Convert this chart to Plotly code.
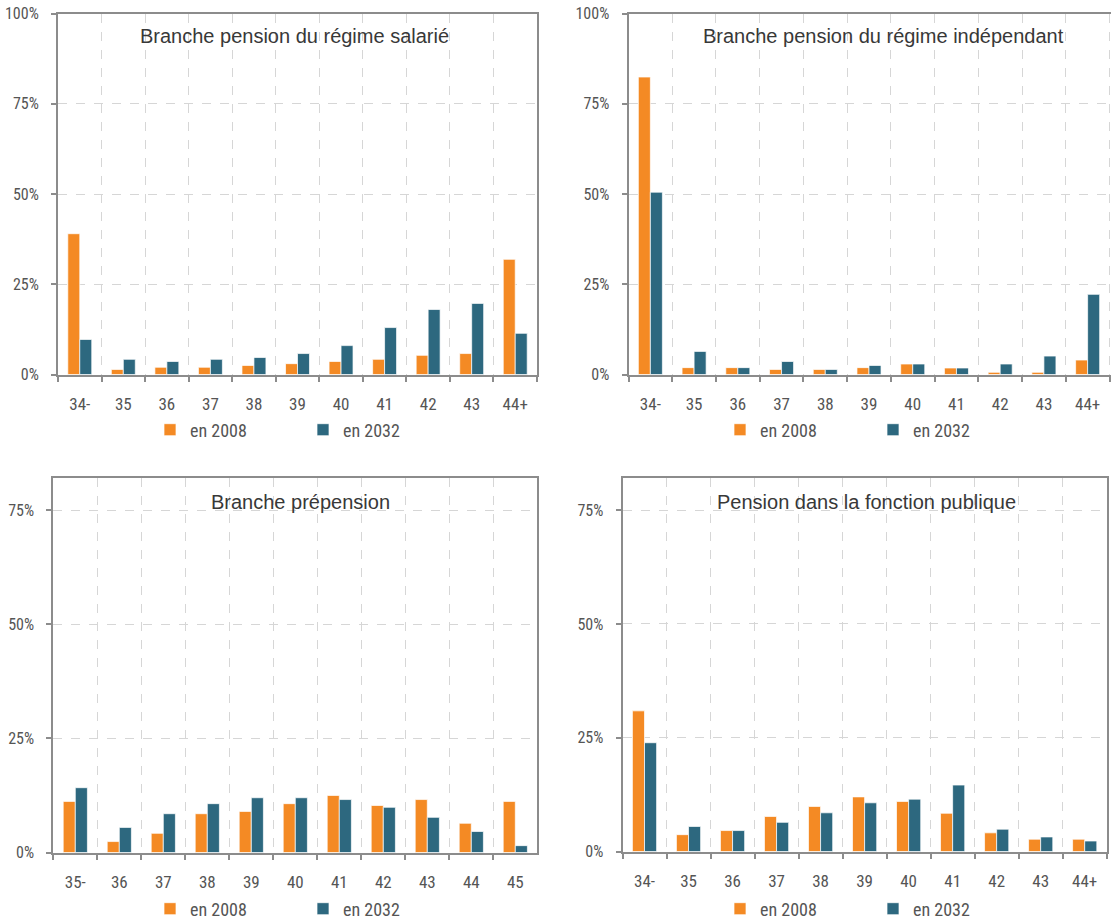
import plotly.graph_objects as go

W, H = 1111, 922

# ---------------- data ----------------
cats_age = ["34-", "35", "36", "37", "38", "39", "40", "41", "42", "43", "44+"]
cats_prep = ["35-", "36", "37", "38", "39", "40", "41", "42", "43", "44", "45"]

sal_2008 = [39.0, 1.4, 2.0, 2.0, 2.5, 3.0, 3.6, 4.2, 5.3, 5.8, 31.9]
sal_2032 = [9.7, 4.2, 3.6, 4.2, 4.7, 5.8, 8.0, 13.0, 18.0, 19.7, 11.4]

ind_2008 = [82.4, 1.9, 1.9, 1.4, 1.4, 1.9, 2.9, 1.8, 0.6, 0.6, 4.0]
ind_2032 = [50.5, 6.4, 1.9, 3.6, 1.4, 2.5, 2.9, 1.8, 2.9, 5.1, 22.2]

prep_2008 = [11.2, 2.4, 4.2, 8.5, 9.0, 10.7, 12.5, 10.3, 11.6, 6.4, 11.2]
prep_2032 = [14.2, 5.5, 8.5, 10.7, 12.0, 12.0, 11.6, 9.9, 7.7, 4.6, 1.5]

fp_2008 = [30.9, 3.7, 4.6, 7.7, 9.9, 12.0, 11.0, 8.4, 4.1, 2.7, 2.7]
fp_2032 = [23.9, 5.5, 4.6, 6.4, 8.5, 10.7, 11.5, 14.6, 4.9, 3.2, 2.3]

titles = ["Branche pension du régime salarié",
          "Branche pension du régime indépendant",
          "Branche prépension",
          "Pension dans la fonction publique"]
series_names = ["en 2008", "en 2032"]

ticks_top = [0, 25, 50, 75, 100]
ticks_bottom = [0, 25, 50, 75]

# ---------------- styling ----------------
ORANGE = "#F48A24"
TEAL = "#2D687F"
AXIS = "#8C8C8C"
GRID = "#D6D6D6"
TXT = "#555555"
NARROW = "Liberation Sans Narrow, Arial Narrow, Roboto Condensed, Liberation Sans, Arial, sans-serif"
SANS = "Liberation Sans, Arial, sans-serif"

# pixel boxes: (left, right, top, bottom)
panels = [
    dict(title=titles[0], cats=cats_age, a=sal_2008, b=sal_2032, box=(58, 537, 13.5, 374.5),
         ymax=100, ticks=ticks_top, tpos=(294, 36), leg=(172, 430)),
    dict(title=titles[1], cats=cats_age, a=ind_2008, b=ind_2032, box=(628.5, 1111, 13.5, 374.5),
         ymax=100, ticks=ticks_top, tpos=(883, 36), leg=(742, 430)),
    dict(title=titles[2], cats=cats_prep, a=prep_2008, b=prep_2032, box=(53.3, 537.3, 478.3, 852.5),
         ymax=82, ticks=ticks_bottom, tpos=(301, 502), leg=(172, 909)),
    dict(title=titles[3], cats=cats_age, a=fp_2008, b=fp_2032, box=(622.5, 1106.7, 478.3, 851.5),
         ymax=82, ticks=ticks_bottom, tpos=(866, 502), leg=(742, 909)),
]

fig = go.Figure()
layout = dict(
    width=W, height=H, margin=dict(l=0, r=0, t=0, b=0, autoexpand=False),
    paper_bgcolor="white", plot_bgcolor="white",
    barmode="group", bargap=0.45, bargroupgap=0.0,
    annotations=[],
)

for i, p in enumerate(panels):
    n = "" if i == 0 else str(i + 1)
    xa, ya = "x" + n, "y" + n
    leg = "legend" + n
    l, r, t, b = p["box"]
    for name, vals, col in zip(series_names, [p["a"], p["b"]], [ORANGE, TEAL]):
        fig.add_trace(go.Bar(
            x=p["cats"], y=vals, name=name, xaxis=xa, yaxis=ya, legend=leg,
            marker=dict(color=col, line=dict(color="rgba(255,255,255,0.7)", width=1)),
            offsetgroup=name, hoverinfo="x+y+name",
        ))
    rng_right = 10.5 if r < W else 10.5 + (r - W + 1.5) / ((W - l) / 11)
    layout["xaxis" + n] = dict(
        domain=[l / W, min(r / W, 1.0)], anchor=ya, type="category",
        range=[-0.5, rng_right],
        showline=True, mirror=True, linecolor=AXIS, linewidth=2,
        showgrid=True, gridcolor=GRID, griddash="dash", gridwidth=1,
        tickson="boundaries", ticks="outside", ticklen=5, tickcolor=AXIS, tickwidth=2,
        tickfont=dict(family=NARROW, size=17, color=TXT),
        ticklabelstandoff=13, zeroline=False, fixedrange=True, automargin=False,
    )
    layout["yaxis" + n] = dict(
        domain=[1 - b / H, 1 - t / H], anchor=xa,
        range=[0, p["ymax"]],
        tickvals=p["ticks"], ticktext=[f"{v}%" for v in p["ticks"]],
        showline=True, mirror=True, linecolor=AXIS, linewidth=2,
        showgrid=True, gridcolor=GRID, griddash="dash", gridwidth=1,
        ticks="outside", ticklen=5, tickcolor=AXIS, tickwidth=2,
        tickfont=dict(family=NARROW, size=16, color=TXT),
        ticklabelstandoff=9, zeroline=False, fixedrange=True, automargin=False,
    )
    layout[leg] = dict(
        orientation="h", x=(p["leg"][0] - 22) / W, y=1 - p["leg"][1] / H,
        xanchor="left", yanchor="middle", bgcolor="rgba(0,0,0,0)",
        font=dict(family=NARROW, size=18, color=TXT),
        entrywidth=108, entrywidthmode="pixels", itemclick=False, itemdoubleclick=False,
    )
    layout["annotations"].append(dict(
        text=p["title"], x=p["tpos"][0] / W, y=1 - p["tpos"][1] / H,
        xref="paper", yref="paper", xanchor="center", yanchor="middle",
        showarrow=False, font=dict(family=SANS, size=20, color="#383838"),
    ))

fig.update_layout(**layout)
fig.write_html(
    "out.html",
    config={"displayModeBar": False},
    post_script="document.body.style.margin='0';document.body.style.overflow='hidden';",
)
